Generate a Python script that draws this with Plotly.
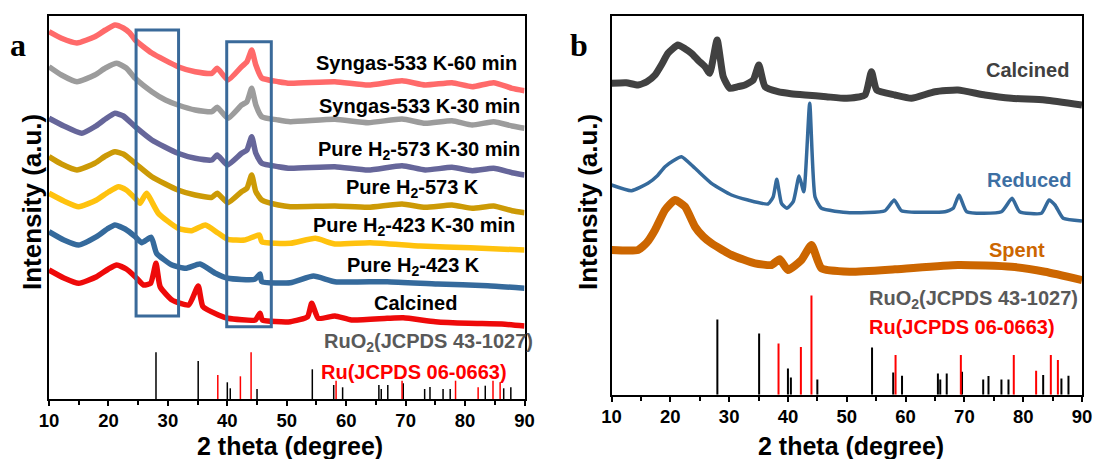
import plotly.graph_objects as go

# ---------------- panel a: in-situ / treated patterns (offset, a.u.) ----------------
syn60_x = [10.0, 12.1, 14.7, 17.7, 19.5, 21.1, 22.5, 23.6, 24.5, 27.3, 31.7, 34.6, 37.4, 38.3, 40.1, 42.4, 43.3, 44.1, 44.8, 45.8, 48.6, 50.6, 58.1, 63.7, 69.4, 73.3, 77.8, 81.2, 84.8, 87.9, 90.0]
syn60_y = [367.3, 360.7, 356, 362.3, 369, 374, 371, 366, 359, 346, 332.3, 327.3, 325.7, 330.7, 319, 332.3, 337.3, 349, 334, 321, 317.3, 315.7, 317.3, 314, 318.3, 314, 316.3, 312.3, 316.3, 310.7, 308.3]

syn30_x = [10.0, 12.1, 14.7, 17.7, 19.5, 21.4, 23.0, 24.5, 27.3, 29.6, 31.7, 34.6, 37.4, 38.3, 40.1, 42.4, 43.3, 44.1, 44.8, 45.8, 48.6, 50.6, 58.1, 63.7, 69.4, 73.3, 77.8, 81.2, 84.8, 87.9, 90.0]
syn30_y = [332.3, 324, 317.3, 324, 331, 335.7, 331, 320.7, 307.3, 299, 294, 289, 287.3, 291.7, 280.7, 294, 297.3, 310.7, 294, 282.3, 279, 277.3, 279.7, 276.3, 280, 275.7, 278.3, 274, 277.3, 273, 270.7]

h573_30_x = [10.0, 12.5, 15.5, 17.7, 19.5, 21.1, 22.5, 24.5, 27.3, 31.7, 34.6, 37.4, 38.3, 40.0, 42.4, 43.3, 44.1, 44.8, 45.8, 48.6, 50.6, 58.1, 63.7, 69.4, 73.3, 77.8, 81.2, 84.8, 87.9, 90.0]
h573_30_y = [280.7, 273, 265.7, 272.3, 280, 285.7, 283, 272.3, 259, 245.7, 240.7, 239, 244, 234, 245.7, 249, 262.3, 245.7, 235.7, 232.3, 230.7, 232.3, 229, 233.3, 229, 231.7, 228.3, 230.7, 226.3, 224]

h573_x = [10.0, 12.1, 14.7, 17.7, 19.5, 21.1, 22.5, 24.5, 27.3, 31.7, 34.6, 37.4, 38.3, 40.1, 42.4, 43.3, 44.1, 44.8, 45.8, 48.6, 50.6, 58.1, 63.7, 69.4, 73.3, 77.8, 81.2, 84.8, 87.9, 90.0]
h573_y = [242.3, 235, 229, 235.7, 243, 247.3, 245, 235.7, 222.3, 209, 204, 201.7, 205.7, 196.3, 207.3, 210.7, 224, 207.3, 199, 194, 192.3, 193, 191.7, 195, 191.7, 194, 190.7, 193, 188.3, 186.3]

h423_30_x = [10.0, 12.5, 15.0, 18.0, 20.0, 21.7, 23.0, 24.5, 25.3, 26.4, 28.4, 31.7, 34.0, 36.3, 38.5, 40.1, 42.9, 45.4, 45.8, 50.6, 54.8, 58.1, 64.0, 72.5, 80.9, 90.0]
h423_30_y = [205.7, 198, 192.3, 199, 207, 212.3, 209, 200.7, 195.7, 205.7, 185.7, 170.7, 168.3, 174, 165.7, 159.7, 159, 164, 157.3, 155.7, 160.7, 155, 156.3, 153, 151.3, 149]

h423_x = [10.0, 12.5, 15.0, 18.0, 19.8, 21.1, 22.8, 24.5, 25.6, 27.2, 28.1, 30.7, 33.0, 35.4, 38.0, 40.1, 44.6, 45.5, 45.8, 50.6, 54.5, 58.1, 66.9, 75.4, 83.8, 90.0]
h423_y = [167.3, 159, 154, 162.3, 170, 174, 170, 162.3, 156.3, 161.7, 145.7, 134, 130.7, 135, 125.7, 120.7, 119.7, 125, 117.3, 116.3, 123, 117.3, 117.3, 115, 113.3, 110.7]

calc_a_x = [10.0, 12.5, 15.0, 18.0, 20.0, 21.4, 23.0, 24.5, 25.9, 27.1, 28.0, 28.7, 30.7, 33.5, 35.1, 35.9, 38.5, 40.1, 44.7, 45.5, 45.9, 50.6, 53.5, 54.2, 55.3, 58.1, 60.9, 66.9, 69.6, 75.0, 80.6, 86.2, 90.0]
calc_a_y = [129, 121, 115.7, 122.3, 130, 134, 130, 122.3, 114, 115.7, 135.7, 112.3, 99, 94, 113, 92.3, 84, 80.7, 79, 85.7, 79, 77.3, 82.3, 95.7, 80.7, 83, 79, 80.7, 81.3, 77.3, 75.7, 75, 73]

# ---------------- panel b: calcined / reduced / spent ----------------
calc_b_x = [10.0, 12.5, 14.5, 16.0, 17.4, 18.6, 19.6, 21.3, 22.5, 23.6, 24.8, 25.9, 26.7, 27.96, 29.0, 30.1, 31.5, 32.7, 34.1, 35.05, 36.1, 38.3, 40.5, 42.9, 46.5, 50.0, 53.1, 54.2, 55.1, 58.2, 61.0, 65.0, 68.9, 73.5, 78.0, 83.7, 90.0]
calc_b_y = [311.4, 312, 309.7, 313, 319.7, 331, 341.4, 349.7, 346, 341.4, 334, 328, 321.4, 354.7, 318, 306.4, 308, 309.7, 314.7, 329.7, 308, 303, 301, 299.7, 298, 296.4, 299.7, 323, 304.7, 299.7, 296.4, 303, 304.7, 299.7, 296.4, 294.7, 289.7]

red_b_x = [10.0, 13.4, 16.2, 17.8, 19.1, 20.5, 21.9, 24.2, 27.0, 30.4, 33.2, 36.6, 37.5, 38.1, 38.9, 39.8, 40.9, 41.9, 42.7, 43.7, 44.6, 45.7, 50.5, 56.5, 58.07, 59.3, 66.7, 68.1, 69.1, 70.4, 76.3, 78.1, 79.4, 83.1, 84.4, 85.4, 86.8, 90.0]
red_b_y = [209.7, 204, 211.4, 219, 228, 234, 238, 226.4, 211.4, 199.7, 194.7, 190.7, 198, 215.4, 191.4, 186.4, 193, 218.7, 203, 291.4, 198, 186.4, 182, 184, 194.7, 184, 183, 186.4, 199.7, 183, 183, 196.4, 183, 181.4, 194.7, 189.7, 176.4, 173.7]

spent_b_x = [10.0, 14.5, 16.0, 17.4, 19.1, 20.8, 22.5, 24.2, 25.6, 27.0, 30.4, 34.4, 37.2, 38.6, 40.0, 42.3, 44.0, 45.7, 50.5, 58.2, 68.9, 78.0, 83.7, 90.0]
spent_b_y = [144.7, 144.7, 152, 164.7, 184.7, 194.7, 188, 168, 158, 151.4, 139.7, 131.4, 129.7, 135.4, 124.7, 134.7, 149.7, 126.4, 123, 125.4, 129.7, 128, 123, 114.7]

# ---------------- reference lines ----------------
ruo2_pos = [28.0, 35.1, 40.0, 40.5, 45.0, 54.3, 57.9, 59.4, 65.5, 65.9, 67.0, 69.6, 73.2, 74.1, 76.3, 77.5, 83.4, 86.5, 87.7]
ruo2_h_a = [46.7, 38, 16.7, 10.7, 10, 29.7, 14, 11.7, 14, 10, 14, 15.7, 10, 12, 10, 10, 13.3, 10.7, 11.7]
ruo2_h_b = [75.3, 61.3, 26.3, 17.3, 15.3, 47.3, 22.3, 19, 21.3, 15.3, 21.3, 23, 15.3, 18.7, 15.3, 15.3, 19.7, 16.3, 19]
ru_pos = [38.4, 42.2, 44.0, 58.3, 69.4, 78.4, 82.2, 84.7, 85.9]
ru_h_a = [24, 22.7, 46.7, 18.3, 18.3, 18.3, 11.7, 18.3, 16.7]
ru_h_b = [51.3, 47.7, 99.3, 39.7, 39.7, 39.7, 24, 39.7, 34.7]

# highlighted 2-theta windows in panel a: (x0, x1, y0, y1)
boxes_a = [(24.65, 31.8, 83, 369), (39.9, 47.4, 72.3, 357.3)]

FONT = "Liberation Sans, Arial, sans-serif"
LBL = 20

fig = go.Figure()


def curve(xs, ys, color, width, xa, ya):
    fig.add_trace(go.Scatter(x=xs, y=ys, mode="lines", xaxis=xa, yaxis=ya,
                             line=dict(color=color, width=width, shape="spline", smoothing=0.5),
                             showlegend=False, hoverinfo="skip"))


def sticks(pos, hts, color, width, xa, ya):
    xs, ys = [], []
    for p, h in zip(pos, hts):
        xs += [p, p, None]
        ys += [0, h, None]
    fig.add_trace(go.Scatter(x=xs, y=ys, mode="lines", xaxis=xa, yaxis=ya,
                             line=dict(color=color, width=width),
                             showlegend=False, hoverinfo="skip"))


# panel a curves
curve(syn60_x, syn60_y, "#FF6A6A", 5.5, "x", "y")
curve(syn30_x, syn30_y, "#9C9C9C", 5.5, "x", "y")
curve(h573_30_x, h573_30_y, "#66669A", 5.5, "x", "y")
curve(h573_x, h573_y, "#CC9A06", 5.5, "x", "y")
curve(h423_30_x, h423_30_y, "#FFC20E", 5.5, "x", "y")
curve(h423_x, h423_y, "#356A9C", 5.5, "x", "y")
curve(calc_a_x, calc_a_y, "#EE0A0A", 5.5, "x", "y")
sticks(ruo2_pos, ruo2_h_a, "#000000", 1.5, "x", "y")
sticks(ru_pos, ru_h_a, "#FF0000", 1.5, "x", "y")

# panel b curves
curve(calc_b_x, calc_b_y, "#414141", 7, "x2", "y2")
curve(red_b_x, red_b_y, "#356A9C", 3.5, "x2", "y2")
curve(spent_b_x, spent_b_y, "#CC6600", 8, "x2", "y2")
sticks(ruo2_pos, ruo2_h_b, "#000000", 2, "x2", "y2")
sticks(ru_pos, ru_h_b, "#FF0000", 2, "x2", "y2")

for x0, x1, y0, y1 in boxes_a:
    fig.add_shape(type="rect", xref="x", yref="y", x0=x0, x1=x1, y0=y0, y1=y1,
                  line=dict(color="#3A6A9A", width=3))

W, H = 1094, 459
xa = dict(range=[10, 90], dtick=10, tick0=10, showline=True, mirror=True, linecolor="black",
          linewidth=2, ticks="outside", ticklen=5, tickwidth=2, tickcolor="black",
          minor=dict(dtick=5, ticks="outside", ticklen=4, tickwidth=2, tickcolor="black"),
          showgrid=False, zeroline=False, automargin=False, ticklabelstandoff=-1,
          tickfont=dict(family=FONT, size=18.5, color="black", weight="bold"))
ya = dict(showline=True, mirror=True, linecolor="black", linewidth=2, ticks="",
          showticklabels=False, showgrid=False, zeroline=False, automargin=False)

fig.update_layout(
    width=W, height=H, margin=dict(l=0, r=0, t=0, b=0),
    paper_bgcolor="white", plot_bgcolor="white",
    xaxis=dict(xa, domain=[49 / W, 524.5 / W], anchor="y"),
    yaxis=dict(ya, domain=[(H - 399) / H, (H - 16) / H], range=[0, 383], anchor="x"),
    xaxis2=dict(xa, domain=[611.5 / W, 1082 / W], anchor="y2"),
    yaxis2=dict(ya, domain=[(H - 394.7) / H, (H - 16) / H], range=[0, 378.7], anchor="x2"),
)


def label(text, x, y, color, xr, yr, size=LBL):
    fig.add_annotation(text=text, x=x, y=y, xref=xr, yref=yr, showarrow=False,
                       xanchor="center", yanchor="middle",
                       font=dict(family=FONT, size=size, color=color, weight="bold"))


# panel a sample labels
label("Syngas-533 K-60 min", 71.8, 335.7, "black", "x", "y")
label("Syngas-533 K-30 min", 72.3, 293, "black", "x", "y")
label("Pure H<sub>2</sub>-573 K-30 min", 72.2, 249, "black", "x", "y")
label("Pure H<sub>2</sub>-573 K", 71.1, 211, "black", "x", "y")
label("Pure H<sub>2</sub>-423 K-30 min", 71.4, 172.3, "black", "x", "y")
label("Pure H<sub>2</sub>-423 K", 71.4, 132.3, "black", "x", "y")
label("Calcined", 71.6, 96, "black", "x", "y")
label("RuO<sub>2</sub>(JCPDS 43-1027)", 73.8, 56.3, "#595959", "x", "y")
label("Ru(JCPDS 06-0663)", 71.4, 27.3, "#FF0000", "x", "y")

# panel b sample labels
label("Calcined", 80.7, 324.7, "#404040", "x2", "y2")
label("Reduced", 81.0, 214.7, "#3D6FA3", "x2", "y2")
label("Spent", 78.9, 144.7, "#CC6600", "x2", "y2")
label("RuO<sub>2</sub>(JCPDS 43-1027)", 71.5, 95.7, "#595959", "x2", "y2")
label("Ru(JCPDS 06-0663)", 69.6, 68, "#FF0000", "x2", "y2")

# axis titles
for cx in (289.5 / W, 851 / W):
    fig.add_annotation(text="2 theta (degree)", x=cx, y=(H - 446) / H, xref="paper", yref="paper",
                       showarrow=False, xanchor="center", yanchor="middle",
                       font=dict(family=FONT, size=25, color="black", weight="bold"))
for cx in (32 / W, 588 / W):
    fig.add_annotation(text="Intensity (a.u.)", x=cx, y=(H - 202) / H, xref="paper", yref="paper",
                       showarrow=False, textangle=-90, xanchor="center", yanchor="middle",
                       font=dict(family=FONT, size=26, color="black", weight="bold"))

# panel letters
for txt, cx in (("a", 18 / W), ("b", 579 / W)):
    fig.add_annotation(text=txt, x=cx, y=(H - 45) / H, xref="paper", yref="paper",
                       showarrow=False, xanchor="center", yanchor="middle",
                       font=dict(family="Liberation Serif, Times New Roman, serif", size=32,
                                 color="black", weight="bold"))

fig.write_html("out.html")
